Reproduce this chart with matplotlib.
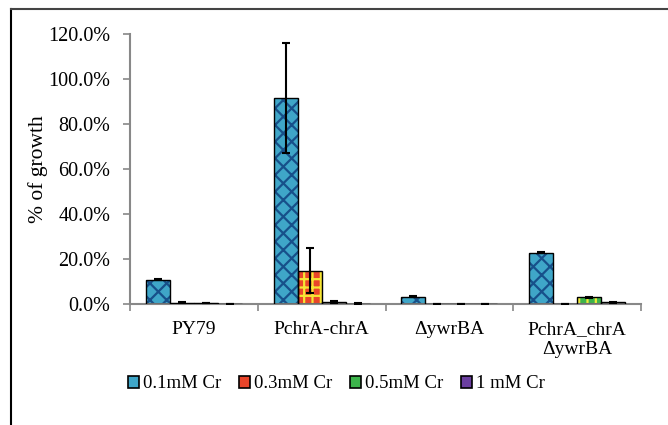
import matplotlib
matplotlib.use("Agg")
import matplotlib.pyplot as plt
import numpy as np
from matplotlib.patches import Patch
from matplotlib.lines import Line2D
from matplotlib.ticker import PercentFormatter

categories = ["PY79", "PchrA-chrA", "\u0394ywrBA", "PchrA_chrA\n\u0394ywrBA"]
series = ["0.1mM Cr", "0.3mM Cr", "0.5mM Cr", "1 mM Cr"]
values = [
    [11.0, 91.5, 3.4, 22.8],   # 0.1mM
    [0.7, 14.9, 0.2, 0.2],     # 0.3mM
    [0.5, 1.0, 0.2, 3.1],      # 0.5mM
    [0.2, 0.3, 0.3, 0.8],      # 1 mM
]
errors = [
    [0.3, 24.5, 0.2, 0.2],
    [0.1, 10.1, 0.0, 0.0],
    [0.1, 0.5, 0.0, 0.3],
    [0.0, 0.1, 0.0, 0.1],
]

fills = ["#3fa6c8", "#e9452a", "#3cb44b", "#6b3fa0"]
hatch_cols = ["#17508a", "#f5e634", "#f2ea3a", "#6b3fa0"]
hatches = ["xx", "++", "||", None]

plt.rcParams['font.family'] = ['Liberation Serif', 'DejaVu Serif']
plt.rcParams['hatch.linewidth'] = 1.6

fig = plt.figure(figsize=(6.68, 4.25), dpi=100)
ax = fig.add_axes([130/668, 1-304.3/425, (641-130)/668, (304.3-34)/425])

x = np.arange(len(categories))
w = 0.1875
for i in range(4):
    pos = x + (i - 1.5) * w
    vals = np.array(values[i]) / 100
    errs = np.array(errors[i]) / 100
    ax.bar(pos, vals, w, color=fills[i], hatch=hatches[i], edgecolor=hatch_cols[i], linewidth=0, zorder=2)
    ax.bar(pos, vals, w, fill=False, edgecolor="black", linewidth=1.0, zorder=3)
    ax.errorbar(pos, vals, yerr=errs, fmt="none", ecolor="black", elinewidth=1.5, capsize=3, capthick=1.5, zorder=4)

ax.set_xlim(-0.5, 3.5)
ax.set_ylim(0, 1.2)
ax.set_yticks(np.arange(0, 1.21, 0.2))
ax.yaxis.set_major_formatter(PercentFormatter(1.0, decimals=1))
ax.set_xticks(x)
ax.set_xticklabels(categories)
ax.set_xticks(np.arange(-0.5, 3.6, 1.0), minor=True)
ax.tick_params(axis='x', which='major', length=0, labelsize=14, pad=12)
ax.tick_params(axis='x', which='minor', length=5, color="#888888", width=1.2)
ax.tick_params(axis='y', length=5, color="#888888", width=1.2, labelsize=14.5, pad=9)
for s in ["top", "right"]:
    ax.spines[s].set_visible(False)
for s in ["left", "bottom"]:
    ax.spines[s].set_color("#888888")
    ax.spines[s].set_linewidth(1.5)
ax.set_ylabel("% of growth", fontsize=15.5)
ax.yaxis.set_label_coords(-0.16, 0.5)

handles = [Patch(facecolor=fills[i], edgecolor="black", linewidth=1.2) for i in range(4)]
fig.legend(handles, series, loc="center left", bbox_to_anchor=(111/668, 1-384/425), ncol=4,
           frameon=False, fontsize=13.5, handlelength=0.6, handleheight=0.6, handletextpad=0.2,
           columnspacing=0.95)

fig.add_artist(Line2D([11/668, 11/668], [0, 1-8.5/425], color="black", linewidth=1.5, transform=fig.transFigure))
fig.add_artist(Line2D([11/668, 1], [1-8.5/425, 1-8.5/425], color="#444444", linewidth=1.5, transform=fig.transFigure))

fig.savefig("out.png", dpi=100)
